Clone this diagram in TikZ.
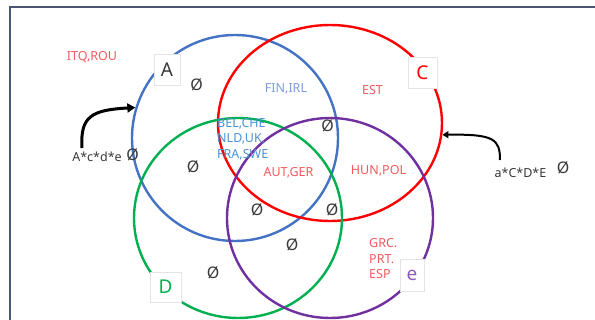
\documentclass[tikz,border=0pt]{standalone}
\usepackage{fontspec}
\setmainfont{Noto Sans}
\usetikzlibrary{shapes.geometric,arrows.meta}
\definecolor{cA}{HTML}{4472C4}
\definecolor{cC}{HTML}{FF0000}
\definecolor{cD}{HTML}{00B050}
\definecolor{cE}{HTML}{7030A0}
\definecolor{frameblue}{HTML}{4A5572}
\definecolor{lblred}{HTML}{F25A5E}
\definecolor{lblblue}{HTML}{7A9EDC}
\definecolor{lblcyan}{HTML}{4A92D6}
\definecolor{lblpurple}{HTML}{8C5CB8}
\definecolor{boxgray}{HTML}{E4E4E4}
\definecolor{txtgray}{HTML}{3A3A3A}
\begin{document}
\begin{tikzpicture}[x=1pt,y=-1pt,
  venn/.style={ellipse, inner sep=0pt, line width=2.4pt},
  framestyle/.style={draw=frameblue, line width=1.3pt},
  lbl/.style={inner sep=0pt, font=\fontsize{12.5}{15.5}\selectfont},
  empty/.style={inner sep=0pt, text=txtgray, font=\fontsize{16}{18}\selectfont},
  formula/.style={inner sep=0pt, text=txtgray, font=\fontsize{12.5}{15}\selectfont},
  setbox/.style={draw=boxgray, line width=0.6pt, fill=white, inner sep=0pt, font=\fontsize{19}{21}\selectfont},
  bigarrow/.style={line width=3pt, -{Triangle[length=8pt,width=9pt]}},
  smallarrow/.style={line width=2pt, -{Triangle[length=6pt,width=7pt]}}
]
\useasboundingbox (0,0) rectangle (595,320);
\fill[white] (0,0) rectangle (595,320);
\draw[framestyle] (10,322) -- (10,7) -- (597,7);

% circles
\node[venn, draw=cA, minimum width=206pt, minimum height=206pt] (circA) at (235,138) {};
\node[venn, draw=cC, minimum width=224pt, minimum height=196pt] (circC) at (330,123) {};
\node[venn, draw=cD, minimum width=208pt, minimum height=200pt] (circD) at (238,218) {};
\node[venn, draw=cE, minimum width=206pt, minimum height=200pt] (circE) at (330,218) {};

% set name boxes
\node[setbox, minimum width=26pt, minimum height=31pt, text=txtgray] (nameA) at (167,70) {A};
\node[setbox, minimum width=29pt, minimum height=31pt, text=cC] (nameC) at (422.5,72.5) {C};
\node[setbox, minimum width=31pt, minimum height=30pt, text=cD] (nameD) at (165.5,287) {D};
\node[setbox, minimum width=24pt, minimum height=32pt, text=lblpurple] (nameE) at (412,275) {e};

% region labels
\node[lbl, text=lblred] (itq) at (92,57.5) {ITQ,ROU};
\node[lbl, text=lblblue] (fin) at (286,88.5) {FIN,IRL};
\node[lbl, text=lblred] (est) at (372.5,90.5) {EST};
\node[lbl, text=lblcyan, align=left, anchor=west] (bel) at (217,139) {BEL,CHE\\NLD,UK,\\FRA,SWE};
\node[lbl, text=lblred] (aut) at (288.5,173) {AUT,GER};
\node[lbl, text=lblred] (hun) at (378.5,170.5) {HUN,POL};
\node[lbl, text=lblred, align=left, anchor=west] (grc) at (369,259) {GRC.\\PRT.\\ESP};

% empty sets
\node[empty] (e1) at (196.5,85) {Ø};
\node[empty] (e2) at (327.5,126) {Ø};
\node[empty] (e3) at (193,167) {Ø};
\node[empty] (e4) at (257,210) {Ø};
\node[empty] (e5) at (332,210) {Ø};
\node[empty] (e6) at (292,245) {Ø};
\node[empty] (e7) at (213,273) {Ø};

% outside formulas
\node[formula] (fl) at (97,157) {A*c*d*e};
\node[empty] (fle) at (132.5,154.5) {Ø};
\node[formula] (fr) at (520.5,173) {a*C*D*E};
\node[empty] (fre) at (563,167.5) {Ø};

% arrows
\coordinate (ls) at (82,148);
\coordinate (rs) at (500,160);
\draw[bigarrow] (ls) .. controls (80,116) and (92,110) .. (circA.163);
\draw[smallarrow] (rs) .. controls (500,139) and (494,134) .. (circC.-6);
\end{tikzpicture}
\end{document}
